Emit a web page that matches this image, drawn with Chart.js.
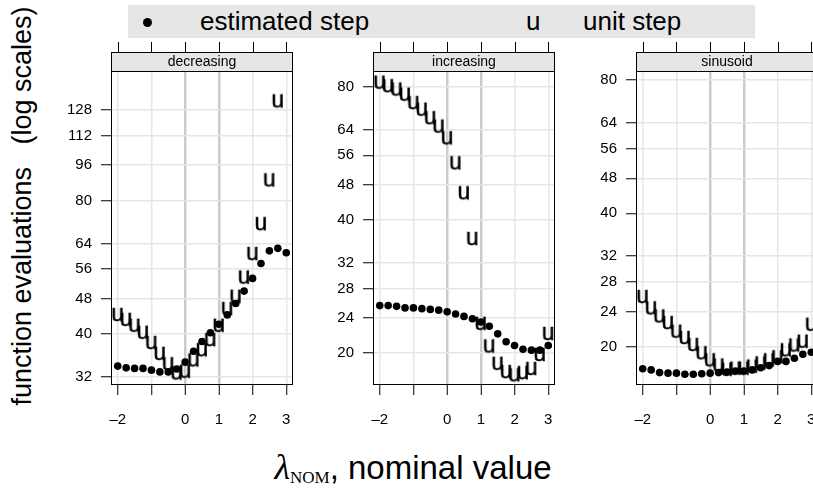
<!DOCTYPE html>
<html>
<head>
<meta charset="utf-8">
<script src="https://cdn.jsdelivr.net/npm/chart.js@4.4.0/dist/chart.umd.min.js"></script>
<style>
  html, body { margin: 0; padding: 0; background: #fff; overflow: hidden; }
  body { width: 813px; height: 491px; position: relative; font-family: "Liberation Sans", Arial, sans-serif; }
  canvas { position: absolute; top: 30px; }
  #legend { position: absolute; left: 128px; top: 5px; width: 627px; height: 33px; background: #e6e6e6; }
  #legend span { position: absolute; top: 0; line-height: 33px; font-size: 26px; color: #000; }
  #legend .dot { position: absolute; left: 15px; top: 13px; width: 9px; height: 9px; border-radius: 50%; background: #000; }
  #ytitle { position: absolute; left: 22px; top: 206px; transform: translate(-50%, -50%) rotate(-90deg); white-space: pre; font-size: 27px; }
  #xtitle { position: absolute; left: 413px; top: 448px; transform: translateX(-50%); white-space: nowrap; font-size: 33px; line-height: 38px; }
  #xtitle .lam { font-family: "Liberation Serif", serif; font-style: italic; font-size: 36px; }
  #xtitle sub { font-family: "Liberation Serif", serif; font-size: 17px; vertical-align: -4px; }
</style>
</head>
<body>
<div id="legend">
  <div class="dot"></div>
  <span style="left:72px">estimated step</span>
  <span style="left:398px">u</span>
  <span style="left:455px">unit step</span>
</div>
<div id="ytitle">function evaluations   (log scales)</div>
<div id="xtitle"><span class="lam">λ</span><sub>NOM</sub>, nominal value</div>

<canvas id="dec" width="247" height="400" style="left:51px"></canvas>
<canvas id="inc" width="247" height="400" style="left:313px"></canvas>
<canvas id="sin" width="247" height="400" style="left:576px"></canvas>

<script>
// nominal value of lambda (x axis, every panel)
const nominal = [-2, -1.75, -1.5, -1.25, -1, -0.75, -0.5, -0.25, 0, 0.25, 0.5, 0.75, 1, 1.25, 1.5, 1.75, 2, 2.25, 2.5, 2.75, 3];
const xTicks = [-2, -1, 0, 1, 2, 3];

// decreasing
const decEst = [33.9, 33.6, 33.5, 33.5, 33.2, 32.9, 32.9, 33.4, 34.6, 36.6, 38.5, 40.3, 42.1, 44.2, 46.9, 50.0, 53.4, 57.7, 61.6, 62.4, 61.0];
const decUnit = [44.4, 43.3, 42.0, 40.5, 38.4, 36.3, 34.4, 32.8, 33.1, 35.1, 37.0, 39.0, 42.0, 45.8, 48.8, 53.9, 60.9, 71.1, 89.2, 134.3, null];
const decTicks = [32, 40, 48, 56, 64, 80, 96, 112, 128];

// increasing
const incEst = [25.6, 25.6, 25.5, 25.3, 25.3, 25.2, 25.1, 25.0, 24.8, 24.5, 24.2, 23.9, 23.5, 23.0, 22.1, 21.2, 20.8, 20.4, 20.3, 20.3, 20.8];
const incUnit = [82.2, 80.7, 79.3, 77.2, 73.9, 71.4, 68.3, 65.4, 61.5, 54.0, 46.2, 36.4, 23.4, 20.8, 19.0, 18.2, 17.9, 18.1, 18.5, 19.9, 22.2];

// sinusoid
const sinEst = [17.8, 17.7, 17.45, 17.4, 17.4, 17.3, 17.3, 17.35, 17.4, 17.45, 17.5, 17.6, 17.6, 17.7, 17.9, 18.1, 18.5, 18.5, 18.8, 19.2, 19.4];
const sinUnit = [26.0, 24.5, 23.5, 22.7, 21.7, 21.0, 20.25, 19.4, 18.7, 18.2, 17.8, 17.9, 17.9, 18.1, 18.4, 18.7, 19.0, 19.7, 20.2, 20.6, 22.5];
const lowTicks = [20, 24, 28, 32, 40, 48, 56, 64, 80];

const FONT = '"Liberation Sans", Arial, sans-serif';

// the "u" plotting character, ink centred on the point
function makeU() {
  const c = document.createElement('canvas');
  c.width = 22; c.height = 22;
  const g = c.getContext('2d');
  g.font = '23px ' + FONT;
  const m = g.measureText('u');
  const w = m.actualBoundingBoxLeft + m.actualBoundingBoxRight;
  const h = m.actualBoundingBoxAscent + m.actualBoundingBoxDescent;
  const tx = 11 - w / 2 + m.actualBoundingBoxLeft;
  const ty = 11 - h / 2 + m.actualBoundingBoxAscent;
  g.fillStyle = '#000';
  g.strokeStyle = '#000';
  g.lineWidth = 0.5;
  g.fillText('u', tx, ty);
  g.strokeText('u', tx, ty);
  return c;
}
const uGlyph = makeU();

// strip, frame and top ticks, lattice style
const panelDecor = {
  id: 'panelDecor',
  afterDraw(chart, args, opts) {
    const { ctx, chartArea: a, scales: { x } } = chart;
    const stripH = 19;
    ctx.save();
    ctx.fillStyle = '#e6e6e6';
    ctx.fillRect(a.left, a.top - stripH, a.width, stripH);
    ctx.strokeStyle = '#000';
    ctx.lineWidth = 1;
    ctx.strokeRect(a.left + 0.5, a.top - stripH + 0.5, a.width - 1, stripH);
    ctx.strokeRect(a.left + 0.5, a.top + 0.5, a.width - 1, a.height - 1);
    ctx.fillStyle = '#000';
    ctx.font = '14px ' + FONT;
    ctx.textAlign = 'center';
    ctx.textBaseline = 'middle';
    ctx.fillText(opts.title, (a.left + a.right) / 2, a.top - stripH / 2 + 1);
    ctx.beginPath();
    xTicks.forEach(v => {
      const px = Math.round(x.getPixelForValue(v)) + 0.5;
      ctx.moveTo(px, a.top - stripH);
      ctx.lineTo(px, a.top - stripH - 10);
    });
    ctx.stroke();
    ctx.restore();
  }
};

const isRef = v => v === 0 || v === 1;

function makePanel(id, title, est, unit, yMin, yMax, yTicks) {
  new Chart(document.getElementById(id), {
    type: 'scatter',
    data: {
      datasets: [
        {
          label: 'estimated step',
          data: nominal.map((x, i) => ({ x, y: est[i] })),
          pointStyle: 'circle',
          pointRadius: 3.8,
          backgroundColor: '#000',
          borderWidth: 0,
          order: 1
        },
        {
          label: 'unit step',
          data: nominal.map((x, i) => ({ x, y: unit[i] })),
          pointStyle: uGlyph,
          order: 0
        }
      ]
    },
    options: {
      responsive: false,
      animation: false,
      events: [],
      layout: { padding: { top: 41, right: 4, left: 0, bottom: 0 } },
      plugins: {
        legend: { display: false },
        tooltip: { enabled: false },
        panelDecor: { title }
      },
      scales: {
        x: {
          type: 'linear',
          min: -2.2,
          max: 3.2,
          afterBuildTicks: s => { s.ticks = xTicks.map(v => ({ value: v })); },
          afterFit: s => { s.height = 45; s.paddingLeft = 0; s.paddingRight = 0; },
          border: { display: false },
          grid: {
            color: c => (c.tick && isRef(c.tick.value)) ? '#cbcbcb' : '#e6e6e6',
            lineWidth: c => (c.tick && isRef(c.tick.value)) ? 2.5 : 1.5,
            tickColor: '#000',
            tickWidth: 1,
            tickLength: 10
          },
          ticks: {
            font: { size: 15, family: FONT },
            color: '#000',
            padding: 16,
            maxRotation: 0,
            autoSkip: false,
            callback: v => v === -1 ? '' : (v < 0 ? '–' + Math.abs(v) : String(v))
          }
        },
        y: {
          type: 'logarithmic',
          min: yMin,
          max: yMax,
          afterBuildTicks: s => { s.ticks = yTicks.map(v => ({ value: v })); },
          afterFit: s => { s.width = 60; s.paddingTop = 0; s.paddingBottom = 0; },
          border: { display: false },
          grid: {
            color: '#e6e6e6',
            lineWidth: 1.5,
            tickColor: '#000',
            tickWidth: 1,
            tickLength: 10
          },
          ticks: {
            font: { size: 15, family: FONT },
            color: '#000',
            padding: 9,
            autoSkip: false,
            callback: v => String(v)
          }
        }
      }
    },
    plugins: [panelDecor]
  });
}

makePanel('dec', 'decreasing', decEst, decUnit, 30.74, 156.4, decTicks);
makePanel('inc', 'increasing', incEst, incUnit, 16.93, 86.9, lowTicks);
makePanel('sin', 'sinusoid', sinEst, sinUnit, 16.36, 83.9, lowTicks);
</script>
</body>
</html>
